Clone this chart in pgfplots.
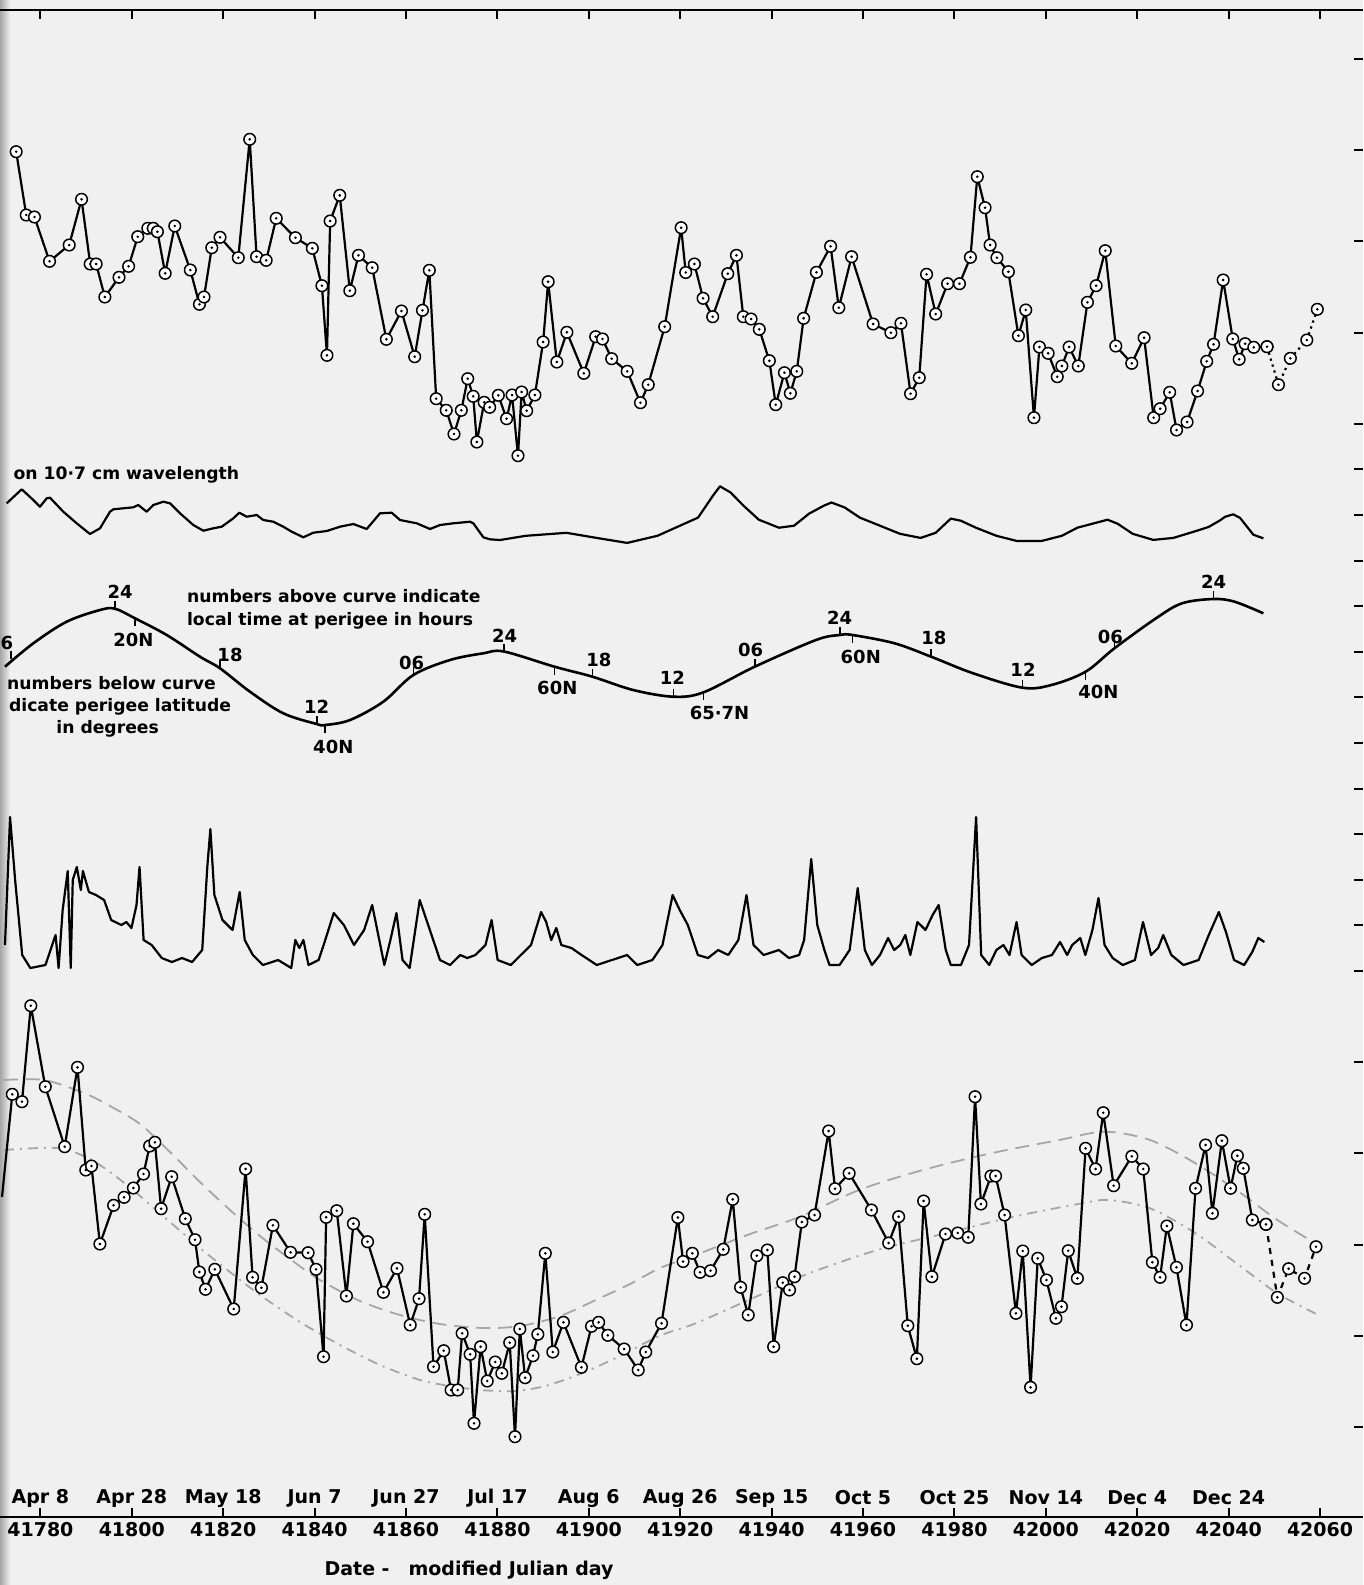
\documentclass[border=0pt]{standalone}
\usepackage{pgfplots}
\pgfplotsset{compat=1.18}
\usepackage{fontspec}
\setmainfont{DejaVu Sans}
\usetikzlibrary{backgrounds}

\pgfdeclareplotmark{odot}{%
  \pgfpathcircle{\pgfpointorigin}{\pgfplotmarksize}%
  \pgfsetfillcolor{white}%
  \pgfusepathqfillstroke
  \pgfpathcircle{\pgfpointorigin}{0.25\pgfplotmarksize}%
  \pgfsetfillcolor{black}%
  \pgfusepathqfill}
\pgfdeclareplotmark{tup}{%
  \pgfpathmoveto{\pgfpointorigin}%
  \pgfpathlineto{\pgfpoint{0pt}{\pgfplotmarksize}}%
  \pgfusepathqstroke}
\pgfdeclareplotmark{tdown}{%
  \pgfpathmoveto{\pgfpointorigin}%
  \pgfpathlineto{\pgfpoint{0pt}{-\pgfplotmarksize}}%
  \pgfusepathqstroke}

\begin{document}
\begin{tikzpicture}[font=\fontsize{9}{11}\selectfont\bfseries]
\begin{axis}[
  scale only axis, width=681.5pt, height=753.5pt,
  xmin=41771.16, xmax=42069.4, ymin=10, ymax=1517, y dir=reverse,
  clip=false,
  scaled x ticks=false,
  separate axis lines,
  x axis line style={line width=1.3pt},
  y axis line style={draw=none},
  tick align=inside, xtick pos=both, ytick pos=right,
  xticklabel pos=lower,
  major tick length=4.5pt,
  tick style={line width=1pt, black},
  xtick={41780,41800,41820,41840,41860,41880,41900,41920,41940,41960,41980,42000,42020,42040,42060},
  xticklabels={41780,41800,41820,41840,41860,41880,41900,41920,41940,41960,41980,42000,42020,42040,42060},
  xticklabel style={font=\fontsize{9.5}{11}\selectfont\bfseries, yshift=1pt},
  ytick={59,150.2,241.4,332.6,423.8,469.4,515,560.6,606.2,651.8,697.4,743,788.6,834.2,879.8,925.4,971,1062.2,1153.4,1244.6,1335.8,1427},
  yticklabels={},
  every axis plot/.append style={line join=round},
]

% ---------- bottom panel: smooth reference curves ----------
\addplot[gray!70, line width=0.9pt, dash pattern=on 7pt off 4pt, smooth] coordinates {
(41772.03,1080) (41780.79,1080) (41789.54,1093) (41795.23,1106) (41801.80,1124) (41808.36,1152)
(41814.92,1182) (41821.49,1210) (41828.05,1236) (41834.62,1259) (41841.18,1280) (41849.93,1301)
(41858.69,1315) (41867.44,1324) (41877.07,1328) (41884.95,1326) (41893.70,1316) (41902.45,1298)
(41909.02,1284) (41915.58,1268) (41923.35,1255) (41935.28,1234) (41946.22,1216.7) (41959.13,1190)
(41973.07,1170) (41987.99,1153.3) (42002.89,1140) (42012.85,1131.7) (42022.81,1140) (42032.76,1163.3)
(42042.70,1193.3) (42050.66,1220) (42059.61,1245)};
\addplot[gray!70, line width=0.9pt, dash pattern=on 5pt off 3pt on 1pt off 3pt, smooth] coordinates {
(41772.03,1150) (41783.63,1148) (41790.42,1158) (41796.11,1175) (41801.80,1196) (41808.36,1222)
(41814.92,1248) (41821.49,1272) (41828.05,1295) (41836.81,1322) (41845.56,1345) (41854.31,1365)
(41863.07,1380) (41869.63,1386) (41876.20,1390) (41883.85,1391) (41890.42,1386) (41898.08,1374)
(41906.83,1356) (41915.36,1336) (41923.35,1323.3) (41938.25,1293.3) (41948.19,1273.3) (41963.13,1250)
(41978.06,1233.3) (41992.96,1216.7) (42007.88,1203.3) (42013.83,1200) (42022.81,1208.3) (42032.76,1233.3)
(42042.70,1266.7) (42050.66,1293.3) (42059.61,1315)};

% ---------- top panel: circled series ----------
\addplot[black, line width=1.1pt, mark=odot, mark size=2.9pt, mark options={solid, line width=0.75pt}] coordinates {
(41774.7,151.7) (41776.9,215) (41778.7,217) (41782.0,261.3) (41786.3,245) (41789.0,199.3)
(41790.9,264) (41792.2,264) (41794.1,297) (41797.2,277.3) (41799.3,266.3) (41801.3,236.7)
(41803.5,228.3) (41804.7,228.3) (41805.6,231.7) (41807.3,273.3) (41809.4,226) (41812.8,270)
(41814.8,304.3) (41815.8,297) (41817.5,247.7) (41819.3,237.3) (41823.3,257.7) (41825.8,139.3)
(41827.3,256.7) (41829.4,260.3) (41831.6,218.3) (41835.8,237.7) (41839.5,248.3) (41841.6,285.7)
(41842.7,355.3) (41843.4,221) (41845.5,195.3) (41847.7,290.7) (41849.6,255.3) (41852.6,267.7)
(41855.7,339.3) (41859.0,311) (41861.9,356.7) (41863.6,310.3) (41865.1,270.3) (41866.6,398.7)
(41868.8,410.3) (41870.5,434) (41872.1,410.3) (41873.5,378.7) (41874.7,396.3) (41875.5,442)
(41877.1,402.3) (41878.3,407.3) (41880.2,395.3) (41882.0,418.7) (41883.2,395) (41884.5,455.7)
(41885.3,392) (41886.4,410.7) (41888.2,395) (41890.0,342) (41891.1,281.7) (41893.0,362)
(41895.2,332.3) (41898.9,373.3) (41901.5,336.7) (41903.0,339) (41905.0,358.7) (41908.4,371.3)
(41911.3,402.7) (41913.0,384.7) (41916.6,326.7) (41920.2,227.7) (41921.2,272.5) (41923.1,264)
(41925.0,298.3) (41927.1,316.7) (41930.4,273.7) (41932.3,255.3) (41933.8,316.7) (41935.5,319)
(41937.3,329.3) (41939.5,360.7) (41940.9,404.7) (41942.8,372.7) (41944.1,393.3) (41945.5,371.3)
(41947.0,318.3) (41949.8,272.3) (41952.9,246.3) (41954.7,307.7) (41957.5,256.7) (41962.2,324)
(41966.1,332.7) (41968.3,323.3) (41970.4,393.7) (41972.3,377.7) (41973.9,274.3) (41975.9,314)
(41978.5,283.7) (41981.1,283.7) (41983.5,257.3) (41985.0,176.7) (41986.7,207.7) (41987.8,245)
(41989.3,257.7) (41991.8,271.7) (41994.0,335.7) (41995.6,310) (41997.4,417.7) (41998.6,347)
(42000.5,353.3) (42002.5,376.7) (42003.5,366) (42005.1,347) (42007.1,366) (42009.1,302.3)
(42011.0,285.7) (42013.0,250.7) (42015.3,346) (42018.8,363.3) (42021.5,337.7) (42023.6,417.7)
(42025.0,408.7) (42027.1,392.3) (42028.6,430) (42030.9,422) (42033.2,391) (42035.2,361.3)
(42036.7,344.3) (42038.8,280) (42040.9,339) (42042.3,359.3) (42043.6,343.7) (42045.5,347.3)
(42048.4,346.7)};
\addplot[black, line width=1.1pt, dotted, mark=odot, mark size=2.9pt, mark options={solid, line width=0.75pt}] coordinates {
(42048.4,346.7) (42050.9,384.7) (42053.5,358.3) (42057.1,340) (42059.4,309.3)};

% ---------- solar flux 10.7 cm ----------
\addplot[black, line width=1.1pt] coordinates {
(41772.63,503.3) (41775.91,489.3) (41778.45,500) (41779.91,506.7) (41781.38,498.3) (41782.10,497.7)
(41785.01,511.7) (41787.94,523.3) (41790.85,534) (41793.04,528.3) (41795.23,511.7) (41795.95,509.3)
(41800.33,507.3) (41801.42,505) (41803.26,511.7) (41804.70,505) (41806.89,501.7) (41808.36,503.3)
(41810.55,513.3) (41813.46,525) (41815.65,530.7) (41817.83,528.3) (41819.67,526.7) (41822.21,518.3)
(41823.52,512.7) (41825.14,516.7) (41827.33,515) (41828.77,520) (41830.96,521.7) (41833.15,526.7)
(41834.99,531.7) (41837.53,537.3) (41839.72,532.7) (41842.65,531) (41845.56,526.7) (41848.47,524)
(41851.40,529) (41854.31,513.3) (41856.87,512.7) (41858.69,520) (41862.34,523.3) (41865.25,529)
(41867.44,525) (41870.35,523.3) (41874.01,521.7) (41874.73,523.3) (41876.92,537.3) (41878.38,539.3)
(41880.57,540) (41886.2,535.8) (41895.1,532.8) (41901.7,537.9) (41908.4,542.9) (41915.0,535.8)
(41923.9,517.6) (41927.2,495.4) (41928.7,486.3) (41931.0,492.4) (41933.8,505.5) (41937.2,519.7)
(41941.6,527.7) (41944.9,525.7) (41948.2,513.6) (41951.5,505.5) (41953.1,502.5) (41956.0,507.5)
(41959.3,517.6) (41963.7,525.7) (41968.1,533.8) (41972.6,537.9) (41975.9,532.8) (41979.2,518.6)
(41981.4,520.7) (41984.7,527.7) (41989.2,535.8) (41993.6,540.9) (41999.1,540.9) (42003.5,535.8)
(42006.9,527.7) (42010.2,523.7) (42013.5,519.7) (42015.7,523.7) (42019.0,533.8) (42023.5,539.9)
(42027.9,537.9) (42032.3,531.8) (42035.6,527) (42038.1,520.4) (42039.2,516.8) (42041.0,514.3)
(42042.5,517.9) (42045.4,534.7) (42047.6,538.3)};

% ---------- perigee local time curve ----------
\addplot[black, line width=1.3pt, smooth, tension=0.55] coordinates {
(41772.25,666.7) (41778.45,643.3) (41785.75,621.7) (41793.04,610) (41796.32,608.7) (41800.70,618.3)
(41807.64,635) (41814.92,656.7) (41819.30,668.3) (41825.86,691.7) (41833.15,713.3) (41840.46,724)
(41842.28,725) (41847.75,720) (41855.03,701.7) (41861.60,675) (41869.63,660) (41876.92,653.3)
(41881.4,651.5) (41892.5,666.7) (41900.8,676.7) (41909.7,690) (41918.5,696.7) (41925.1,692.3)
(41936.3,666.7) (41949.7,640) (41954.9,635) (41957.7,635) (41966.9,643.3) (41974.9,656.7)
(41984.1,673.3) (41994.9,687.7) (42001.2,685) (42008.7,671.7) (42015.0,648.3) (42024.1,618.3)
(42029.8,603.3) (42036.7,599) (42041.3,601.7) (42047.6,613.3)};
\addplot[black, only marks, mark=tup, mark size=4pt, mark options={line width=0.8pt}] coordinates {
(41773.6,659) (41796.32,608.7) (41819.30,668.3) (41840.46,724) (41861.60,675) (41881.4,651.5) (41900.8,676.7)
(41918.5,696.7) (41936.3,666.7) (41954.9,635) (41974.9,656.7) (41994.9,687.7) (42015.0,648.3)
(42036.7,599)};
\addplot[black, only marks, mark=tdown, mark size=4pt, mark options={line width=0.8pt}] coordinates {
(41800.70,618.3) (41842.28,725) (41892.5,666.7) (41925.1,692.3) (41957.7,635) (42008.7,671.7)};

% ---------- spiky middle series ----------
\addplot[black, line width=1.1pt] coordinates {
(41772.25,945) (41773.36,817) (41774.47,880) (41776.02,955) (41777.79,968) (41781.11,965)
(41783.32,935) (41783.98,968) (41784.87,910) (41785.98,871) (41786.64,968) (41787.08,880)
(41787.97,867) (41788.85,890) (41789.30,871) (41790.62,892) (41792.17,895) (41793.94,900)
(41795.49,920) (41797.71,925) (41798.81,922) (41799.92,928) (41801.03,905) (41801.69,867)
(41802.58,940) (41804.35,945) (41806.56,958) (41808.77,962) (41810.99,958) (41813.20,962)
(41815.41,950) (41816.52,867) (41817.19,829) (41818.07,895) (41819.84,920) (41822.05,930)
(41823.60,892) (41824.71,940) (41826.48,955) (41828.69,965) (41832.01,960) (41834.89,968)
(41835.78,940) (41836.66,948) (41837.55,940) (41838.66,965) (41840.87,960) (41841.98,945)
(41844.19,913) (41846.40,925) (41848.62,945) (41850.83,930) (41852.60,905) (41854.15,940)
(41855.26,965) (41856.58,940) (41857.91,913) (41859.24,960) (41860.79,968) (41863.00,900)
(41865.22,930) (41867.43,960) (41869.64,965) (41871.86,955) (41873.41,958) (41875.18,955)
(41877.39,945) (41878.72,920) (41880.05,960) (41882.92,965) (41885.14,955) (41887.35,945)
(41889.56,912) (41890.67,922) (41891.78,940) (41892.88,928) (41893.99,945) (41896.20,948)
(41898.42,955) (41901.74,965) (41905.06,960) (41908.38,955) (41910.59,965) (41913.91,960)
(41916.12,945) (41918.34,895) (41919.89,910) (41921.66,925) (41923.87,955) (41926.08,958)
(41928.30,950) (41930.51,955) (41932.72,940) (41934.50,895) (41936.04,945) (41938.26,955)
(41941.58,950) (41943.79,958) (41946.01,955) (41947.11,940) (41948.66,859) (41949.99,925)
(41951.54,950) (41952.65,965) (41954.86,965) (41957.07,950) (41958.84,888) (41960.39,950)
(41961.94,965) (41963.71,955) (41965.48,938) (41966.81,950) (41968.14,945) (41969.25,935)
(41970.35,955) (41971.90,922) (41973.67,930) (41975.22,915) (41976.55,905) (41978.10,950)
(41979.21,965) (41981.42,965) (41983.19,945) (41984.74,817) (41985.85,955) (41987.62,965)
(41989.17,950) (41990.72,945) (41992.04,955) (41993.59,922) (41994.70,955) (41996.91,965)
(41999.13,958) (42001.34,955) (42003.11,942) (42004.66,955) (42005.77,945) (42007.54,938)
(42008.64,955) (42010.19,930) (42011.52,898) (42012.85,945) (42014.62,958) (42016.83,965)
(42019.49,960) (42021.26,922) (42023.03,955) (42024.58,948) (42025.69,935) (42027.46,955)
(42030.11,965) (42033.43,960) (42035.65,935) (42037.86,912) (42039.41,932) (42041.18,960)
(42043.39,965) (42045.16,952) (42046.49,938) (42047.82,942)};

% ---------- bottom panel: circled series ----------
\addplot[black, line width=1.1pt] coordinates {(41771.6,1197) (41773.85,1094.3)};
\addplot[black, line width=1.1pt, mark=odot, mark size=2.9pt, mark options={solid, line width=0.75pt}] coordinates {
(41773.85,1094.3) (41775.97,1101.7) (41777.90,1005.7) (41781.07,1086.7) (41785.32,1146.7) (41788.12,1067.3)
(41789.93,1170) (41791.18,1166) (41793.02,1244) (41796.02,1205.3) (41798.32,1197.3) (41800.35,1188)
(41802.56,1174) (41803.90,1146) (41805.05,1142.3) (41806.41,1208.7) (41808.73,1176.7) (41811.71,1218.7)
(41813.83,1239.7) (41814.79,1272) (41816.13,1289.3) (41818.16,1269.3) (41822.30,1309) (41824.90,1169)
(41826.43,1277.3) (41828.36,1287.7) (41830.88,1225.3) (41834.73,1252.3) (41838.58,1252.7) (41840.31,1269.3)
(41841.95,1356.7) (41842.52,1217.3) (41844.84,1210.7) (41846.96,1296) (41848.49,1223.7) (41851.58,1241.7)
(41855.06,1292.3) (41858.03,1268.3) (41860.92,1325) (41862.85,1298.7) (41864.09,1214.3) (41866.02,1366.7)
(41868.25,1350.7) (41869.87,1390) (41871.31,1390) (41872.28,1333.3) (41874.03,1354.3) (41874.88,1423.3)
(41876.32,1346.7) (41877.77,1381) (41879.52,1362) (41880.96,1373.3) (41882.69,1342.7) (41883.85,1436.7)
(41884.90,1329) (41886.06,1377.7) (41887.79,1355.7) (41888.84,1334.3) (41890.48,1253.3) (41892.12,1352)
(41894.44,1322.3) (41898.38,1367.3) (41900.59,1326.3) (41902.15,1322.3) (41904.16,1335.3) (41907.73,1349)
(41910.81,1370) (41912.45,1352) (41915.91,1323.3) (41919.48,1217.5) (41920.62,1261.5) (41922.65,1253.3)
(41924.34,1272.3) (41926.63,1270.7) (41929.41,1249.3) (41931.49,1199.3) (41933.20,1287.3) (41934.88,1315)
(41936.76,1255.7) (41939.06,1250) (41940.44,1346.7) (41942.43,1282.7) (41943.92,1290) (41945.01,1276.7)
(41946.61,1222) (41949.39,1215) (41952.48,1131) (41953.87,1188.7) (41956.96,1173.3) (41961.84,1210)
(41965.61,1243) (41967.79,1216.7) (41969.79,1325.7) (41971.78,1358.7) (41973.26,1201) (41975.06,1276.7)
(41978.05,1234) (41980.72,1233) (41983.02,1237.3) (41984.51,1096.7) (41985.80,1204) (41987.99,1176)
(41989.00,1176) (41990.97,1215) (41993.46,1313.3) (41994.95,1251) (41996.66,1387.3) (41998.23,1258.3)
(42000.13,1280) (42002.21,1318.3) (42003.42,1306.7) (42004.90,1250.7) (42006.90,1278.3) (42008.69,1148.3)
(42010.88,1169) (42012.56,1112.7) (42014.84,1185.7) (42018.82,1156.3) (42021.31,1169) (42023.31,1262.3)
(42025.00,1277.3) (42026.48,1226) (42028.58,1267.3) (42030.77,1325) (42032.76,1188.3) (42034.95,1145)
(42036.44,1213.3) (42038.51,1140.7) (42040.42,1188.3) (42041.91,1155.7) (42043.20,1168.3) (42045.19,1220)
(42048.17,1224.3)};
\addplot[black, line width=1.1pt, dashed, mark=odot, mark size=2.9pt, mark options={solid, line width=0.75pt}] coordinates {
(42048.17,1224.3) (42050.66,1297.3) (42053.13,1268.7) (42056.61,1278.3) (42059.11,1246.7)};

% ---------- annotations ----------
\node[anchor=west, font=\fontsize{8.6}{10}\selectfont\bfseries] at (axis cs:41772.6,475) {on 10·7 cm wavelength};
\node[anchor=west, align=left, font=\fontsize{8.6}{11.3}\selectfont\bfseries] at (axis cs:41810.55,609.5) {numbers above curve indicate\\local time at perigee in hours};
\node[anchor=west, font=\fontsize{8.6}{10}\selectfont\bfseries] at (axis cs:41771.2,682.7) {numbers below curve};
\node[anchor=west, font=\fontsize{8.6}{10}\selectfont\bfseries] at (axis cs:41771.6,706.7) {dicate perigee latitude};
\node[anchor=west, font=\fontsize{8.6}{10}\selectfont\bfseries] at (axis cs:41781.95,729.3) {in degrees};
\node[anchor=west, inner sep=0pt] at (axis cs:41771.2,643) {6};

\node at (axis cs:41797.44,591.7) {24};
\node at (axis cs:41821.49,655) {18};
\node at (axis cs:41840.46,707.3) {12};
\node at (axis cs:41861.25,663.3) {06};
\node at (axis cs:41881.6,636) {24};
\node at (axis cs:41902.2,660) {18};
\node at (axis cs:41918.3,678.3) {12};
\node at (axis cs:41935.4,650) {06};
\node at (axis cs:41954.9,618.3) {24};
\node at (axis cs:41975.5,638.3) {18};
\node at (axis cs:41995.0,670) {12};
\node at (axis cs:42014.1,636.7) {06};
\node at (axis cs:42036.7,581.7) {24};
\node at (axis cs:41800.33,640) {20N};
\node at (axis cs:41844.09,746.7) {40N};
\node at (axis cs:41893.1,688.3) {60N};
\node at (axis cs:41928.6,713.3) {65·7N};
\node at (axis cs:41959.5,656.7) {60N};
\node at (axis cs:42011.5,691.7) {40N};

\foreach \d/\lab in {41780/Apr 8,41800/Apr 28,41820/May 18,41840/Jun 7,41860/Jun 27,41880/Jul 17,41900/Aug 6,41920/Aug 26,41940/Sep 15,41960/Oct 5,41980/Oct 25,42000/Nov 14,42020/Dec 4,42040/Dec 24}{
  \edef\temp{\noexpand\node[font=\noexpand\fontsize{9.5}{11}\noexpand\selectfont\noexpand\bfseries] at (axis cs:\d,1498) {\lab};}
  \temp
}
\node[font=\fontsize{9.5}{11}\selectfont\bfseries] at (axis cs:41873.8,1570) {Date -\quad modified Julian day};
\end{axis}
\pgfresetboundingbox
\path (current axis.south west) ++(0,-34pt) coordinate (bl);
\path (current axis.north east) ++(0,5pt) coordinate (tr);
\useasboundingbox (bl) rectangle (tr);
\begin{scope}[on background layer]
  \fill[black!6] (bl) rectangle (tr);
  \shade[left color=black!35, right color=black!6] (bl) rectangle ([xshift=5pt]bl |- tr);
\end{scope}
\end{tikzpicture}
\end{document}
